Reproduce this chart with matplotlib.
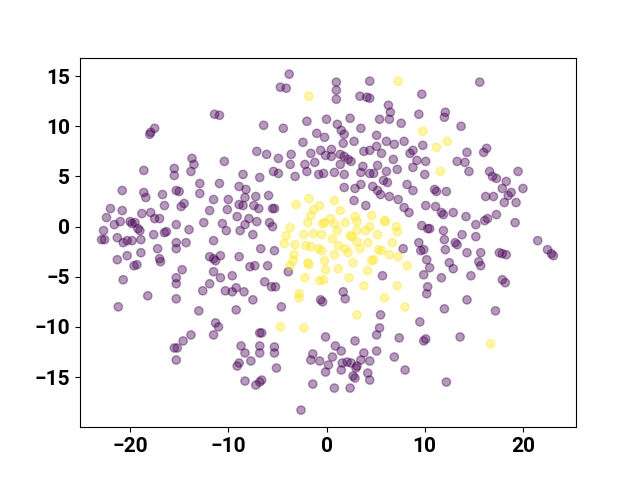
import numpy as np
import matplotlib
matplotlib.use('Agg')
import matplotlib.pyplot as plt

plt.rcParams['font.family'] = ['Roboto', 'DejaVu Sans']
plt.rcParams['font.weight'] = 'bold'
plt.rcParams['font.size'] = 15

# class 0 (purple)
purple = [
    (-18.0, 9.2), (-17.9, 9.4), (-17.5, 9.8), (-18.6, 5.6), (-15.5, 5.8), (-15.5, 5.1),
    (-13.7, 6.8), (-13.5, 6.2), (-13.8, 5.5),
    (-3.8, 15.2), (-4.7, 13.9), (-4.1, 13.8), (-11.4, 11.2), (-10.9, 11.1), (-6.4, 10.1),
    (-4.4, 9.8), (-2.0, 10.5), (0.0, 10.7), (-1.0, 9.3), (-0.2, 8.9), (-2.4, 8.4),
    (-7.1, 7.5), (-6.1, 7.2), (-4.9, 6.8), (-3.6, 7.2), (-1.6, 7.3), (-0.6, 7.6),
    (-0.1, 7.1), (-10.4, 6.5), (-3.7, 6.2), (-2.2, 6.2), (-1.2, 6.4), (-8.5, 5.2),
    (-6.8, 4.9), (-5.4, 5.5), (-4.9, 5.3), (-3.2, 5.0), (-2.0, 5.5), (-0.8, 5.2), (-0.3, 5.3),
    (1.0, 14.4), (1.0, 13.6), (1.0, 12.7), (4.4, 14.5), (3.4, 13.0), (4.1, 12.9), (4.4, 12.8),
    (9.7, 13.2), (6.3, 12.1), (6.5, 11.4), (6.4, 10.7), (5.4, 10.7), (9.4, 11.2), (12.1, 11.4),
    (12.0, 10.9), (2.4, 10.8), (7.6, 10.3), (1.1, 10.2), (1.5, 9.6), (1.8, 9.2), (3.5, 9.8),
    (5.1, 9.1), (1.7, 8.3), (0.5, 7.7), (2.8, 8.5), (6.1, 8.5), (6.9, 8.2), (7.9, 8.5),
    (9.8, 8.1), (3.8, 7.5), (4.4, 7.6), (5.1, 8.0), (5.6, 7.3), (8.5, 7.3), (8.8, 7.6),
    (0.5, 7.0), (1.4, 7.2), (1.8, 7.0), (2.5, 6.5), (2.2, 6.7), (6.8, 6.7), (9.2, 6.6),
    (10.1, 6.5), (1.4, 6.2), (3.7, 6.0), (5.2, 6.1), (7.2, 5.7), (8.8, 5.9), (3.5, 5.4),
    (4.4, 5.3), (4.8, 5.3), (6.1, 5.5), (0.8, 5.4), (1.8, 5.2), (10.0, 5.2), (5.8, 4.6),
    (15.6, 14.4), (13.7, 10.0), (14.3, 7.4), (16.3, 7.8), (16.0, 7.4), (13.3, 6.5), (14.1, 6.4),
    (14.5, 5.5), (16.6, 5.5), (16.9, 5.0), (17.3, 4.8), (18.3, 4.5), (19.5, 5.5),
    (-20.8, 3.6), (-18.6, 3.4), (-18.4, 2.9), (-16.7, 3.2), (-15.3, 3.6), (-15.0, 3.5),
    (-12.9, 3.3), (-12.9, 4.3), (-16.5, 2.1), (-14.5, 2.3), (-14.8, 2.0), (-22.0, 1.8),
    (-20.8, 1.6), (-22.4, 0.9), (-18.8, 1.3), (-17.9, 1.4), (-17.5, 0.8), (-17.0, 0.8),
    (-21.6, 0.2), (-21.0, 0.5), (-20.0, 0.5), (-19.8, 0.3), (-19.5, 0.4), (-19.2, -0.2),
    (-19.0, -0.4), (-15.3, 0.2), (-12.5, 0.4), (-22.7, -0.4), (-14.0, -0.3), (-17.6, -0.8),
    (-16.5, -0.6), (-16.3, -0.5), (-22.9, -1.3), (-22.6, -1.3), (-21.3, -1.1), (-20.7, -1.6),
    (-20.3, -1.4), (-19.8, -1.4), (-18.9, -1.3), (-15.3, -1.6), (-15.3, -2.2), (-14.3, -1.6),
    (-17.2, -2.2), (-18.9, -2.6), (-20.3, -2.9), (-21.3, -3.3), (-17.0, -3.2), (-16.9, -3.5),
    (-19.3, -3.8), (-19.6, -3.9), (-14.7, -4.3), (-15.3, -5.1), (-15.3, -5.7), (-20.7, -5.3),
    (-12.6, -6.4), (-18.2, -6.9), (-15.3, -7.2),
    (-21.2, -8.0), (-13.0, -8.4), (-13.8, -10.8), (-14.6, -11.4), (-15.5, -12.1), (-15.2, -12.1),
    (-15.3, -13.3),
    (-10.9, 4.3), (-8.9, 4.0), (-8.2, 3.7), (-7.2, 3.0), (-5.9, 3.1), (-8.3, 2.9), (-11.5, 2.7),
    (-10.0, 2.7), (-8.9, 2.2), (-8.5, 2.1), (-7.4, 2.1), (-6.9, 1.8), (-5.5, 1.8), (-5.3, 1.8),
    (-11.9, 1.6), (-10.1, 1.7), (-9.1, 1.0), (-7.9, 0.8), (-7.1, 0.5), (-8.3, 0.2), (-10.6, 0.3),
    (-5.8, 0.4), (-5.5, 0.0), (-10.2, -0.4), (-8.8, -0.4), (-7.5, -0.8), (-3.9, -4.5),
    (-11.5, -1.4), (-11.9, -3.0), (-11.5, -3.2), (-11.3, -3.4), (-10.8, -2.9), (-8.9, -3.0),
    (-6.7, -2.2), (-5.3, -2.4), (-7.8, -4.0), (-7.3, -3.9), (-6.0, -3.9), (-11.5, -4.5),
    (-9.6, -4.9), (-10.8, -5.1), (-6.3, -5.5), (-5.6, -6.0), (-5.2, -6.0), (-11.9, -5.7),
    (-10.3, -6.4), (-9.6, -6.5), (-9.2, -6.1), (-8.4, -6.5), (-7.5, -7.3), (-0.6, -7.3), (-0.4, -7.5),
    (1.8, 3.9), (2.9, 3.8), (3.5, 4.2), (4.7, 4.0), (5.2, 3.6), (6.2, 4.4), (5.5, 3.2), (8.2, 4.2),
    (8.8, 3.6), (11.2, 3.5), (11.0, 3.7), (12.2, 3.5), (2.8, 2.6), (4.0, 2.1), (6.4, 3.0),
    (7.3, 2.7), (7.9, 1.9), (8.4, 1.4), (10.1, 2.1), (11.1, 2.0), (11.7, 1.4), (11.9, 1.2),
    (9.7, 0.1), (10.3, -0.2), (10.5, -0.2), (11.9, -0.4), (12.0, -1.3), (9.4, -1.6), (9.6, -2.4),
    (9.9, -2.3), (7.8, -2.2), (12.1, -2.3), (10.2, -3.3), (12.5, -3.6), (10.5, -4.1), (9.9, -4.8),
    (11.7, -5.1), (5.7, -4.9), (10.3, -6.0), (10.2, -6.7), (1.7, -6.5), (1.9, -7.2),
    (17.9, 3.8), (18.8, 3.4), (18.5, 3.1), (20.0, 3.8), (16.2, 3.0), (17.0, 3.0), (18.1, 2.4),
    (19.3, 2.4), (12.9, 1.4), (14.2, 1.0), (15.2, 0.2), (16.1, 0.6), (16.4, 0.8), (17.3, 1.2),
    (19.2, 0.4), (13.8, -0.8), (15.2, -1.0), (13.1, -1.6), (13.3, -1.8), (21.5, -1.4),
    (22.5, -2.3), (22.9, -2.7), (23.1, -2.9), (14.3, -2.6), (15.7, -2.6), (17.6, -2.6),
    (17.9, -2.7), (18.3, -2.8), (12.9, -4.2), (15.5, -3.5), (15.7, -3.9), (14.7, -4.9),
    (17.9, -5.3), (18.2, -5.6), (14.3, -7.3),
    (17.2, -8.4), (13.6, -11.0),
    (-4.6, -8.0), (-9.2, -8.3), (-11.3, -9.6), (-11.0, -10.0), (-11.5, -10.8), (-6.8, -10.6),
    (-6.6, -10.6), (-0.1, -11.0), (-8.7, -11.9), (-6.8, -11.9), (-6.8, -12.6), (-5.3, -12.0),
    (-5.3, -12.6), (-8.3, -12.6), (-8.9, -13.6), (-9.1, -13.9), (-7.7, -13.4), (-5.1, -14.1),
    (-8.3, -15.4), (-6.6, -15.3), (-6.8, -15.5), (-7.2, -15.8), (-2.6, -18.3), (-1.4, -12.7),
    (-1.6, -13.3), (-0.7, -13.4), (-0.1, -14.5), (-1.4, -15.7),
    (12.0, -8.2), (5.5, -8.8), (9.5, -9.5), (5.4, -10.1), (5.1, -10.8), (2.9, -11.4), (7.4, -11.1),
    (10.1, -11.2), (9.9, -11.4), (0.9, -11.9), (1.5, -12.4), (3.8, -12.6), (5.1, -12.4),
    (0.6, -13.0), (6.9, -13.0), (1.6, -13.6), (2.1, -13.5), (2.5, -13.6), (3.5, -13.3),
    (4.4, -13.4), (3.1, -13.9), (3.0, -14.1), (0.2, -13.8), (1.5, -14.3), (2.7, -14.9),
    (2.9, -15.1), (4.2, -14.6), (4.4, -15.3), (8.0, -14.3), (0.8, -16.1), (2.4, -16.1), (12.2, -15.5),
]

# class 1 (yellow)
yellow = [
    (-1.8, 13.0), (7.3, 14.5), (9.8, 9.5), (11.2, 7.9), (12.3, 8.5), (11.6, 5.5),
    (-3.7, -0.1), (-1.8, 2.8), (-3.1, 2.2), (-0.7, 2.1), (-1.3, 1.7), (-1.6, 1.1), (-1.9, 0.4),
    (-0.4, 0.3), (-0.2, 0.4), (-4.1, -0.9), (-2.3, -0.8), (-1.3, -0.7), (-0.5, -0.8),
    (-4.3, -1.7), (-3.2, -1.8), (-2.1, -1.9), (-1.6, -2.0), (-0.8, -2.2), (-0.5, -2.4),
    (-3.3, -2.8), (-3.4, -3.4), (-3.7, -3.9), (-1.9, -3.6), (-1.8, -3.8), (-0.2, -3.4),
    (-0.1, -4.3), (-2.2, -5.1), (-0.7, -5.4), (-0.3, -5.3), (-2.8, -6.7), (-2.8, -7.1),
    (0.8, 2.6), (1.4, 1.6), (0.4, 0.8), (0.8, 0.3), (1.1, -0.4), (0.6, -1.2), (1.2, -1.9),
    (0.8, -2.8), (1.2, -4.2), (2.3, -5.1), (1.9, 0.4), (2.9, 1.0), (3.1, 0.5), (3.1, -0.4),
    (2.6, -1.0), (2.4, -0.9), (4.0, -0.4), (4.4, 0.0), (4.6, 1.1), (6.0, 0.5), (5.9, 0.6),
    (7.1, 0.0), (7.2, -0.5), (5.2, -0.8), (4.2, -1.6), (3.1, -1.5), (3.4, -2.2), (1.9, -2.2),
    (2.2, -2.6), (5.3, -2.3), (5.6, -2.4), (6.7, -1.6), (7.3, -3.0), (6.4, -2.8), (4.6, -3.4),
    (4.8, -3.3), (2.7, -3.6), (4.2, -4.4), (8.2, -3.9), (3.8, -5.9), (7.2, -5.9), (5.9, -7.1),
    (16.7, -11.7), (-4.7, -10.0), (-2.3, -10.1), (3.1, -8.8), (8.0, -8.0),
]

pts = np.array(purple + yellow)
labels = np.array([0] * len(purple) + [1] * len(yellow))

fig, ax = plt.subplots(figsize=(6.4, 4.8), dpi=100)
ax.scatter(pts[:, 0], pts[:, 1], c=labels, cmap='viridis', alpha=0.4)
ax.set_xlim(-25.1, 25.4)
ax.set_ylim(-20.0, 16.85)
ax.set_xticks([-20, -10, 0, 10, 20])
ax.set_yticks([-15, -10, -5, 0, 5, 10, 15])

plt.savefig('out.png')
